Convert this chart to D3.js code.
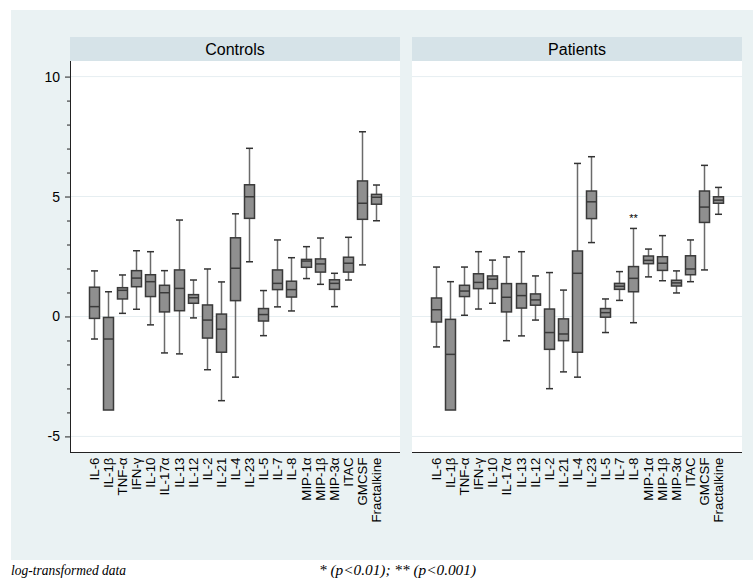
<!DOCTYPE html>
<html><head><meta charset="utf-8">
<script src="https://cdn.jsdelivr.net/npm/d3@7"></script>
<style>body{margin:0;background:#fff}svg{display:block}</style>
</head><body>
<svg id="chart" width="753" height="578"></svg>
<script>
const categories = ["IL-6","IL-1β","TNF-α","IFN-γ","IL-10","IL-17α","IL-13","IL-12","IL-2","IL-21","IL-4","IL-23","IL-5","IL-7","IL-8","MIP-1α","MIP-1β","MIP-3α","ITAC","GMCSF","Fractalkine"];
const panels = ["Controls","Patients"];
// [lower whisker, Q1, median, Q3, upper whisker]
const controlsLow  = [-0.94,-3.90,0.13,0.30,-0.35,-1.52,-1.56,-0.06,-2.22,-3.51,-2.53,2.28,-0.80,0.40,0.23,1.58,1.34,0.41,1.52,2.15,3.99];
const controlsQ1   = [-0.08,-3.90,0.73,1.24,0.83,0.19,0.24,0.55,-0.90,-1.49,0.66,4.09,-0.19,1.12,0.81,2.05,1.85,1.13,1.85,4.05,4.68];
const controlsMed  = [0.41,-0.94,1.09,1.60,1.45,0.99,1.17,0.78,-0.15,-0.53,2.01,4.99,0.08,1.38,1.12,2.31,2.19,1.38,2.22,4.72,4.97];
const controlsQ3   = [1.22,-0.04,1.20,1.91,1.74,1.30,1.94,0.91,0.48,0.10,3.28,5.49,0.33,1.94,1.47,2.38,2.40,1.53,2.47,5.65,5.09];
const controlsHigh = [1.90,1.03,1.73,2.74,2.70,1.91,4.02,1.52,1.98,1.44,4.28,7.01,1.08,3.19,2.45,2.91,3.27,1.80,3.30,7.70,5.48];
const patientsLow  = [-1.27,-3.90,0.05,0.31,0.55,-1.01,-0.81,-0.15,-3.01,-2.31,-2.53,3.08,-0.67,0.67,-0.26,1.65,1.49,0.98,1.45,1.94,4.26];
const patientsQ1   = [-0.23,-3.90,0.83,1.16,1.16,0.19,0.35,0.47,-1.37,-1.01,-1.49,4.08,-0.03,1.13,1.03,2.20,1.92,1.27,1.74,3.92,4.72];
const patientsMed  = [0.28,-1.58,1.06,1.42,1.55,0.80,0.87,0.69,-0.67,-0.73,1.80,4.78,0.16,1.26,1.59,2.34,2.22,1.40,1.98,4.56,4.85];
const patientsQ3   = [0.77,-0.12,1.30,1.78,1.69,1.37,1.37,0.94,0.31,-0.10,2.73,5.23,0.33,1.38,2.08,2.52,2.49,1.51,2.53,5.23,4.99];
const patientsHigh = [2.06,1.45,2.06,2.70,2.35,2.48,2.70,1.69,1.83,1.10,6.38,6.66,0.73,1.87,3.67,2.81,3.37,1.90,3.19,6.30,5.38];
const patientsMarks = ["","","","","","","","","","","","","","","**","","","","","",""];
const yTicks = [-5,0,5,10];
const yTickLabels = ["-5","0","5","10"];
const yMinor = d3.range(-5,11,1);

const svg = d3.select("#chart");
svg.append("rect").attr("x",11).attr("y",10).attr("width",742).attr("height",550).attr("fill","#eaf2f3");

const y = d3.scaleLinear().domain([-5.65,10.65]).range([452,61]);
const panelX = [[70,400],[412,742]];
const data = [
  {low:controlsLow,q1:controlsQ1,med:controlsMed,q3:controlsQ3,high:controlsHigh,marks:null},
  {low:patientsLow,q1:patientsQ1,med:patientsMed,q3:patientsQ3,high:patientsHigh,marks:patientsMarks}
];

panels.forEach((name,pi)=>{
  const [x0,x1] = panelX[pi];
  const g = svg.append("g");
  g.append("rect").attr("x",x0).attr("y",37).attr("width",x1-x0).attr("height",24).attr("fill","#d6e3e8");
  g.append("text").attr("x",(x0+x1)/2).attr("y",55).attr("text-anchor","middle")
    .attr("font-family","Liberation Sans, Arial, sans-serif").attr("font-size",16).attr("fill","#000").text(name);
  g.append("rect").attr("x",x0).attr("y",61).attr("width",x1-x0).attr("height",391).attr("fill","#fff");
  g.selectAll(".grid").data(yTicks).enter().append("line")
    .attr("x1",x0).attr("x2",x1).attr("y1",d=>y(d)).attr("y2",d=>y(d))
    .attr("stroke","#e6eef1").attr("stroke-width",1);
  const x = d3.scalePoint().domain(categories).range([x0,x1]).padding(1.7);
  g.append("line").attr("x1",x0).attr("x2",x1).attr("y1",452.5).attr("y2",452.5).attr("stroke","#222").attr("stroke-width",1);
  if(pi===0){
    const ax = g.append("g").attr("transform",`translate(${x0},0)`)
      .call(d3.axisLeft(y).tickValues(yTicks).tickSize(5).tickPadding(5).tickFormat((v,i)=>yTickLabels[i]));
    ax.select(".domain").remove();
    ax.selectAll("text").attr("font-family","Liberation Sans, Arial, sans-serif").attr("font-size",14).attr("fill","#000");
    ax.selectAll("line").attr("stroke","#222");
    const mn = g.append("g").attr("transform",`translate(${x0},0)`)
      .call(d3.axisLeft(y).tickValues(yMinor.filter(v=>!yTicks.includes(v))).tickSize(3).tickFormat(""));
    mn.select(".domain").remove();
    mn.selectAll("line").attr("stroke","#222");
    g.append("line").attr("x1",x0+0.5).attr("x2",x0+0.5).attr("y1",61).attr("y2",453).attr("stroke","#222");
  }
  const d = data[pi];
  const bw = 10;
  categories.forEach((c,i)=>{
    const cx = Math.round(x(c))+0.5;
    g.append("line").attr("x1",cx).attr("x2",cx).attr("y1",y(d.q3[i])).attr("y2",y(d.high[i])).attr("stroke","#6a6a6a").attr("stroke-width",1.5);
    g.append("line").attr("x1",cx).attr("x2",cx).attr("y1",y(d.q1[i])).attr("y2",y(d.low[i])).attr("stroke","#6a6a6a").attr("stroke-width",1.5);
    [d.high[i], d.low[i]].forEach(v=>{
      if (v===d.q1[i]) return;
      g.append("line").attr("x1",cx-3.5).attr("x2",cx+3.5).attr("y1",y(v)).attr("y2",y(v)).attr("stroke","#333").attr("stroke-width",1.5);
    });
    g.append("rect").attr("x",cx-bw/2).attr("y",y(d.q3[i])).attr("width",bw).attr("height",y(d.q1[i])-y(d.q3[i]))
      .attr("fill","#8f8f8f").attr("stroke","#3a3a3a").attr("stroke-width",1.5);
    g.append("line").attr("x1",cx-bw/2).attr("x2",cx+bw/2).attr("y1",y(d.med[i])).attr("y2",y(d.med[i])).attr("stroke","#3a3a3a").attr("stroke-width",1.5);
    if(d.marks && d.marks[i]){
      g.append("text").attr("x",cx).attr("y",y(d.high[i])-6).attr("text-anchor","middle")
        .attr("font-family","Liberation Sans, Arial, sans-serif").attr("font-size",11).attr("fill","#000").text(d.marks[i]);
    }
    g.append("text").attr("transform",`translate(${cx+4.5},457.5) rotate(-90)`).attr("text-anchor","end")
      .attr("font-family","Liberation Sans, Arial, sans-serif").attr("font-size",13.3).attr("fill","#000").text(c);
  });
});

svg.append("text").attr("x",11).attr("y",575).attr("font-family","Liberation Serif, Times New Roman, serif")
  .attr("font-style","italic").attr("font-size",14).attr("textLength",115).attr("lengthAdjust","spacingAndGlyphs").attr("fill","#000").text("log-transformed data");
svg.append("text").attr("x",319).attr("y",575).attr("font-family","Liberation Serif, Times New Roman, serif")
  .attr("font-style","italic").attr("font-size",14).attr("textLength",157).attr("lengthAdjust","spacingAndGlyphs").attr("fill","#000").text("* (p<0.01); ** (p<0.001)");
</script>
</body></html>
